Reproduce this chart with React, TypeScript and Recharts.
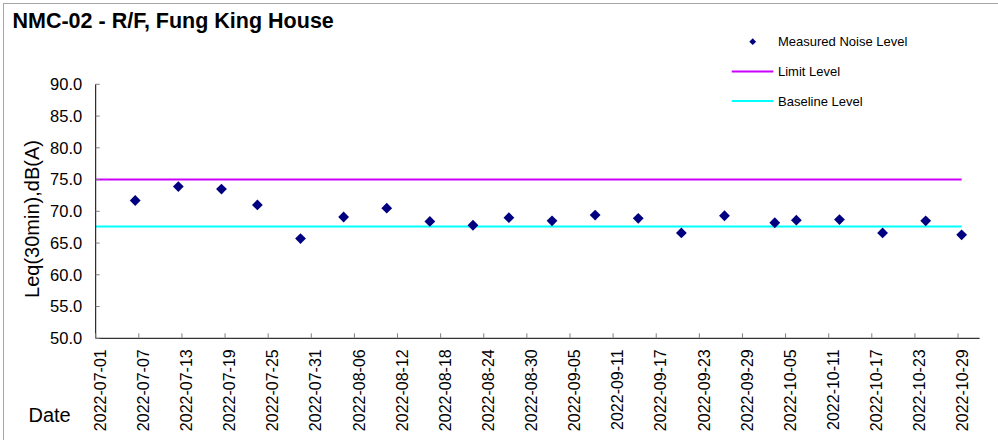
import React from 'react';
import { ComposedChart, Scatter, Line, XAxis, YAxis, Legend } from 'recharts';

const TITLE = 'NMC-02 - R/F, Fung King House';
const Y_LABEL = 'Leq(30min),dB(A)';
const X_LABEL = 'Date';

const ORIGIN = '2022-07-01 00:00';
const DOMAIN_END = '2022-11-01 00:00';

const measureDates = [
  '2022-07-06 12:00', '2022-07-12 12:00', '2022-07-18 12:00', '2022-07-23 12:00',
  '2022-07-29 12:00', '2022-08-04 12:00', '2022-08-10 12:00', '2022-08-16 12:00',
  '2022-08-22 12:00', '2022-08-27 12:00', '2022-09-02 12:00', '2022-09-08 12:00',
  '2022-09-14 12:00', '2022-09-20 12:00', '2022-09-26 12:00', '2022-10-03 12:00',
  '2022-10-06 12:00', '2022-10-12 12:00', '2022-10-18 12:00', '2022-10-24 12:00',
  '2022-10-29 12:00',
];
const measureValues = [
  71.7, 73.9, 73.5, 71.0, 65.7, 69.1, 70.5, 68.4, 67.8, 69.0, 68.5,
  69.4, 68.9, 66.6, 69.3, 68.2, 68.6, 68.7, 66.6, 68.5, 66.3,
];

const lineDates = ['2022-07-01 00:00', '2022-10-29 12:00'];
const LIMIT_LEVEL = 75;
const BASELINE_LEVEL = 67.6;

const xTickLabels = [
  '2022-07-01', '2022-07-07', '2022-07-13', '2022-07-19', '2022-07-25', '2022-07-31',
  '2022-08-06', '2022-08-12', '2022-08-18', '2022-08-24', '2022-08-30', '2022-09-05',
  '2022-09-11', '2022-09-17', '2022-09-23', '2022-09-29', '2022-10-05', '2022-10-11',
  '2022-10-17', '2022-10-23', '2022-10-29',
];
const yTicks = [50, 55, 60, 65, 70, 75, 80, 85, 90];

const SERIES_NAMES = ['Measured Noise Level', 'Limit Level', 'Baseline Level'];
const COLORS = { measured: '#000080', limit: '#CC00FF', baseline: '#00FFFF' };

const FONT = '"Liberation Sans", Arial, sans-serif';

const toMs = (s: string) => Date.parse(s.replace(' ', 'T') + ':00Z');
const toDay = (s: string) => (toMs(s.length <= 10 ? s + ' 00:00' : s) - toMs(ORIGIN)) / 86400000;

const measuredData = measureDates.map((d, i) => ({ x: toDay(d), y: measureValues[i] }));
const limitData = lineDates.map((d) => ({ x: toDay(d), y: LIMIT_LEVEL }));
const baselineData = lineDates.map((d) => ({ x: toDay(d), y: BASELINE_LEVEL }));
const xTicks = xTickLabels.map((d) => toDay(d));
const tickLabelByDay = new Map(xTickLabels.map((d) => [toDay(d), d]));

const Diamond = (props: any) => {
  const { cx, cy } = props;
  if (cx == null || cy == null) return null;
  const r = 5.4;
  return (
    <polygon
      points={`${cx},${cy - r} ${cx + r},${cy} ${cx},${cy + r} ${cx - r},${cy}`}
      fill={COLORS.measured}
    />
  );
};

const YTick = (props: any) => {
  const { x, y, payload } = props;
  return (
    <g>
      <line x1={x} y1={y} x2={x + 4} y2={y} stroke="#808080" strokeWidth={1} />
      <text x={x - 13.5} y={y} dy="0.355em" textAnchor="end" fontSize={16.5} fontFamily={FONT} fill="#000">
        {Number(payload.value).toFixed(1)}
      </text>
    </g>
  );
};

const XTick = (props: any) => {
  const { x, y, payload } = props;
  const label = tickLabelByDay.get(payload.value) ?? '';
  return (
    <g>
      <line x1={x} y1={y} x2={x} y2={y - 5} stroke="#808080" strokeWidth={1} />
      <text
        x={0}
        y={0}
        dy="0.355em"
        textAnchor="end"
        fontSize={16}
        fontFamily={FONT}
        fill="#000"
        transform={`translate(${x + 4.5},${y + 11}) rotate(-90)`}
      >
        {label}
      </text>
    </g>
  );
};

const LegendContent = (props: any) => {
  const payload: any[] = props.payload || [];
  const items = SERIES_NAMES.map((n) => payload.find((p) => p.value === n) || { value: n });
  return (
    <svg width={240} height={100} style={{ display: 'block' }}>
      {items.map((it, i) => {
        const cy = 21.7 + i * 29.7;
        return (
          <g key={it.value}>
            {i === 0 ? (
              <polygon points={`32.7,${cy - 3.4} 36.1,${cy} 32.7,${cy + 3.4} 29.3,${cy}`} fill={COLORS.measured} />
            ) : (
              <line x1={11.7} y1={cy} x2={53.3} y2={cy} stroke={i === 1 ? COLORS.limit : COLORS.baseline} strokeWidth={2} />
            )}
            <text x={58} y={cy} dy="0.355em" fontSize={13} fontFamily={FONT} fill="#000">
              {it.value}
            </text>
          </g>
        );
      })}
    </svg>
  );
};

const YLabel = () => (
  <text
    x={0}
    y={0}
    dy="0.355em"
    textAnchor="middle"
    fontSize={20}
    fontFamily={FONT}
    fill="#000"
    transform="translate(32,219) rotate(-90)"
  >
    {Y_LABEL}
  </text>
);

export default function App() {
  return (
    <div style={{ position: 'absolute', left: 0, top: 0, width: 998, height: 440, overflow: 'hidden', background: '#fff' }}>
      <div
        style={{
          position: 'absolute', left: 3, top: 3, width: 1010, height: 500,
          border: '1px solid #a6a6a6', boxSizing: 'border-box',
        }}
      />
      <div
        style={{
          position: 'absolute', left: 12.5, top: 10.8, fontFamily: FONT, fontSize: 21.5,
          fontWeight: 'bold', lineHeight: '21.5px', whiteSpace: 'nowrap', color: '#000',
        }}
      >
        {TITLE}
      </div>
      <div
        style={{
          position: 'absolute', left: 28.5, top: 404.5, fontFamily: FONT, fontSize: 20,
          lineHeight: '20px', whiteSpace: 'nowrap', color: '#000',
        }}
      >
        {X_LABEL}
      </div>
      <div style={{ position: 'absolute', left: 0, top: 0 }}>
        <ComposedChart width={998} height={440} margin={{ top: 84.3, right: 18.4, bottom: 0, left: 0 }}>
          <XAxis
            type="number"
            dataKey="x"
            domain={[0, toDay(DOMAIN_END)]}
            ticks={xTicks}
            interval={0}
            height={101.7}
            tickSize={0}
            tickMargin={0}
            tick={<XTick />}
            tickLine={false}
            axisLine={{ stroke: '#000', strokeWidth: 1 }}
            allowDataOverflow
          />
          <YAxis
            type="number"
            dataKey="y"
            domain={[50, 90]}
            ticks={yTicks}
            interval={0}
            width={95.7}
            tickSize={0}
            tickMargin={0}
            tick={<YTick />}
            tickLine={false}
            axisLine={{ stroke: '#000', strokeWidth: 1 }}
            label={{ content: () => <YLabel /> }}
            allowDataOverflow
          />
          <Legend
            layout="vertical"
            align="center"
            verticalAlign="middle"
            content={<LegendContent />}
            wrapperStyle={{ position: 'absolute', left: 720, top: 20, width: 240, height: 100 }}
          />
          <Line
            data={limitData}
            dataKey="y"
            name={SERIES_NAMES[1]}
            stroke={COLORS.limit}
            strokeWidth={2}
            dot={false}
            activeDot={false}
            isAnimationActive={false}
            legendType="line"
          />
          <Line
            data={baselineData}
            dataKey="y"
            name={SERIES_NAMES[2]}
            stroke={COLORS.baseline}
            strokeWidth={2}
            dot={false}
            activeDot={false}
            isAnimationActive={false}
            legendType="line"
          />
          <Scatter
            data={measuredData}
            dataKey="y"
            name={SERIES_NAMES[0]}
            fill={COLORS.measured}
            shape={<Diamond />}
            isAnimationActive={false}
            legendType="diamond"
          />
        </ComposedChart>
      </div>
    </div>
  );
}
